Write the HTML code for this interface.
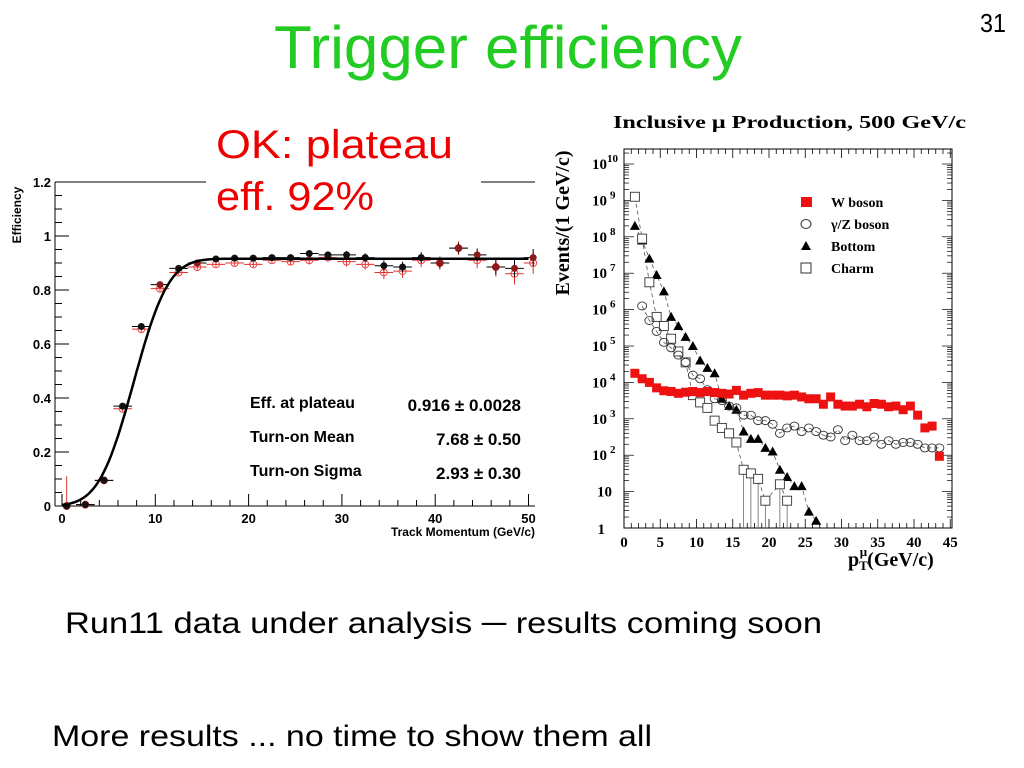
<!DOCTYPE html>
<html><head><meta charset="utf-8">
<style>
html,body{margin:0;padding:0;background:#fff;}
svg{display:block;}
text{font-family:"Liberation Sans",sans-serif;}
.serif{font-family:"Liberation Serif",serif;font-weight:bold;}
</style></head>
<body>
<svg id="slide" width="1024" height="768" viewBox="0 0 1024 768" xmlns="http://www.w3.org/2000/svg">
<rect width="1024" height="768" fill="#fff"/>
<text x="274" y="68" font-size="60" fill="#22cc22" textLength="468" lengthAdjust="spacingAndGlyphs">Trigger efficiency</text>
<text x="980" y="32" font-size="26" fill="#000" textLength="26" lengthAdjust="spacingAndGlyphs">31</text>
<g id="left"></g>
<rect x="206" y="110" width="275" height="115" fill="#fff"/>
<text x="216" y="158" font-size="40" fill="#ee0000" textLength="237" lengthAdjust="spacingAndGlyphs">OK: plateau</text>
<text x="216" y="210" font-size="40" fill="#ee0000" textLength="158" lengthAdjust="spacingAndGlyphs">eff. 92%</text>
<g id="right"></g>
<text x="65" y="633" font-size="30" fill="#000" textLength="757" lengthAdjust="spacingAndGlyphs">Run11 data under analysis ─ results coming soon</text>
<text x="52" y="746" font-size="30" fill="#000" textLength="600" lengthAdjust="spacingAndGlyphs">More results ... no time to show them all</text>
</svg>
<script>
const NS="http://www.w3.org/2000/svg";
// ---------- Left chart data ----------
const effX=[0.5,2.5,4.5,6.5,8.5,10.5,12.5,14.5,16.5,18.5,20.5,22.5,24.5,26.5,28.5,30.5,32.5,34.5,36.5,38.5,40.5,42.5,44.5,46.5,48.5,50.5];
const effBlack=[0,0.005,0.095,0.37,0.665,0.82,0.88,0.9,0.915,0.918,0.918,0.92,0.92,0.935,0.93,0.93,0.92,0.89,0.885,0.92,0.9,0.955,0.93,0.885,0.88,0.92];
const effRed=[0,0.005,0.095,0.36,0.655,0.805,0.865,0.885,0.895,0.9,0.895,0.91,0.905,0.91,0.92,0.905,0.895,0.865,0.87,0.91,0.9,0.955,0.91,0.885,0.86,0.9];
const effErr=[0.11,0.01,0.01,0.01,0.01,0.01,0.01,0.01,0.01,0.01,0.01,0.01,0.012,0.015,0.015,0.018,0.02,0.025,0.025,0.025,0.025,0.025,0.03,0.035,0.04,0.04];
const fitParams=[0.916,7.68,2.93];
const effXTicks=[0,10,20,30,40,50];
const effYTicks=[0,0.2,0.4,0.6,0.8,1,1.2];
const effYLabels=["0","0.2","0.4","0.6","0.8","1","1.2"];
const statNames=["Eff. at plateau","Turn-on Mean","Turn-on Sigma"];
const statVals=["0.916 ± 0.0028","7.68 ± 0.50","2.93 ± 0.30"];

// ---------- Right chart data ----------
const wX=[1.5,2.5,3.5,4.5,5.5,6.5,7.5,8.5,9.5,10.5,11.5,12.5,13.5,14.5,15.5,16.5,17.5,18.5,19.5,20.5,21.5,22.5,23.5,24.5,25.5,26.5,27.5,28.5,29.5,30.5,31.5,32.5,33.5,34.5,35.5,36.5,37.5,38.5,39.5,40.5,41.5,42.5,43.5];
const wLog=[4.25,4.1,4.0,3.85,3.77,3.75,3.7,3.73,3.75,3.72,3.75,3.72,3.7,3.68,3.78,3.65,3.7,3.72,3.65,3.65,3.65,3.63,3.65,3.6,3.55,3.55,3.4,3.6,3.4,3.35,3.35,3.4,3.33,3.42,3.4,3.33,3.35,3.25,3.35,3.1,2.75,2.8,1.97];
const zX=[2.5,3.5,4.5,5.5,6.5,7.5,8.5,9.5,10.5,11.5,12.5,13.5,14.5,15.5,16.5,17.5,18.5,19.5,20.5,21.5,22.5,23.5,24.5,25.5,26.5,27.5,28.5,29.5,30.5,31.5,32.5,33.5,34.5,35.5,36.5,37.5,38.5,39.5,40.5,41.5,42.5,43.5];
const zLog=[6.1,5.7,5.4,5.1,4.95,4.75,4.55,4.2,4.1,3.8,3.55,3.5,3.35,3.3,3.1,3.1,2.95,2.95,2.85,2.6,2.75,2.8,2.65,2.75,2.65,2.55,2.5,2.7,2.4,2.55,2.4,2.4,2.5,2.3,2.4,2.3,2.35,2.35,2.3,2.2,2.2,2.2];
const bX=[1.5,2.5,3.5,4.5,5.5,6.5,7.5,8.5,9.5,10.5,11.5,12.5,13.5,14.5,15.5,16.5,17.5,18.5,19.5,20.5,21.5,22.5,23.5,24.5,25.5,26.5];
const bLog=[8.3,7.9,7.4,6.95,6.5,5.8,5.55,5.25,5.0,4.6,4.4,4.25,3.55,3.35,3.25,2.65,2.45,2.45,2.2,2.1,1.6,1.4,1.15,1.15,0.45,0.2];
const cX=[1.5,2.5,3.5,4.5,5.5,6.5,7.5,8.5,9.5,10.5,11.5,12.5,13.5,14.5,15.5,16.5,17.5,18.5,19.5,21.5,22.5];
const cLog=[9.1,7.95,6.75,5.8,5.55,5.2,4.85,4.55,3.65,3.45,3.3,2.95,2.75,2.6,2.35,1.6,1.5,1.35,0.75,1.2,0.75];
const ptTicks=[0,5,10,15,20,25,30,35,40,45];
const decTicks=[0,1,2,3,4,5,6,7,8,9,10];
const legendLabels=["W boson","γ/Z boson","Bottom","Charm"];

function el(tag,attrs,parent){const e=document.createElementNS(NS,tag);for(const k in attrs)e.setAttribute(k,attrs[k]);parent.appendChild(e);return e;}

// ===== Left chart =====
(function(){
const g=document.getElementById('left');
const X0=62,XS=9.33,Y0=506,YS=270,L=55,R=535;
const sx=v=>X0+v*XS, sy=v=>Y0-v*YS;
el('line',{x1:L,y1:182,x2:L,y2:Y0,stroke:'#000','stroke-width':1},g);
el('line',{x1:L,y1:Y0,x2:R,y2:Y0,stroke:'#000','stroke-width':1},g);
el('line',{x1:L,y1:182,x2:R,y2:182,stroke:'#000','stroke-width':1},g);
for(let v=0;v<=1.2001;v+=0.05){const maj=Math.abs(v*5-Math.round(v*5))<1e-6;el('line',{x1:L,y1:sy(v),x2:L+(maj?14:7),y2:sy(v),stroke:'#000','stroke-width':1},g);}
for(let v=0;v<=50;v+=2){const maj=v%10===0;el('line',{x1:sx(v),y1:Y0,x2:sx(v),y2:Y0-(maj?12:6),stroke:'#000','stroke-width':1},g);}
effYTicks.forEach((v,i)=>{const t=el('text',{x:L-4,y:sy(v)+5,'font-size':13,'font-weight':'bold','text-anchor':'end'},g);t.textContent=effYLabels[i];

});
effXTicks.forEach(v=>{const t=el('text',{x:sx(v),y:Y0+17,'font-size':13,'font-weight':'bold','text-anchor':'middle'},g);t.textContent=v;

});
const yt=el('text',{x:0,y:0,'font-size':12,'font-weight':'bold','text-anchor':'middle',transform:'translate(21,215) rotate(-90)'},g);yt.textContent='Efficiency';


const xt=el('text',{x:535,y:536,'font-size':12,'font-weight':'bold','text-anchor':'end'},g);xt.textContent='Track Momentum (GeV/c)';


// red points
effX.forEach((x,i)=>{const px=sx(x);if(px>R+2)return;const py=sy(effRed[i]);const e=effErr[i]*YS;
el('line',{x1:Math.max(L,sx(x-1)),y1:py,x2:Math.min(R,sx(x+1)),y2:py,stroke:'#d33','stroke-width':1},g);
el('line',{x1:px,y1:py-e,x2:px,y2:Math.min(Y0,py+e),stroke:'#d33','stroke-width':1},g);
const c=el('circle',{cx:px,cy:py,r:3.5,fill:'none',stroke:'#e44','stroke-width':1},g);

});
effX.forEach((x,i)=>{const px=sx(x);if(px>R+2)return;const py=sy(effBlack[i]);const e=effErr[i]*YS*0.8;
el('line',{x1:Math.max(L,sx(x-1)),y1:py,x2:Math.min(R,sx(x+1)),y2:py,stroke:'#000','stroke-width':1},g);
if(i>0)el('line',{x1:px,y1:py-e,x2:px,y2:Math.min(Y0,py+e),stroke:'#000','stroke-width':1},g);
const c=el('circle',{cx:px,cy:py,r:3.5,fill:(i===5||i===7||i>=20)?'#8b1a1a':'#111'},g);

});
// fit curve from params
function erf(x){const t=1/(1+0.3275911*Math.abs(x));const y=1-(((((1.061405429*t-1.453152027)*t)+1.421413741)*t-0.284496736)*t+0.254829592)*t*Math.exp(-x*x);return x>=0?y:-y;}
let d='';for(let i=0;i<=200;i++){const x=i*0.25;const v=fitParams[0]*0.5*(1+erf((x-fitParams[1])/(fitParams[2]*Math.SQRT2)));d+=(i?'L':'M')+sx(x).toFixed(1)+','+sy(v).toFixed(1);}
const fp=el('path',{d:d,fill:'none',stroke:'#000','stroke-width':2.5},g);


statNames.forEach((n,i)=>{const y=408+i*34;
const a=el('text',{x:250,y:y,'font-size':16,'font-weight':'bold'},g);a.textContent=n;


const b=el('text',{x:521,y:y+3,'font-size':17,'font-weight':'bold','text-anchor':'end'},g);b.textContent=statVals[i];

});
})();

// ===== Right chart =====
(function(){
const g=document.getElementById('right');
const L=624,R=952,T=149,B=528,XS=7.25,DS=36.4;
const sx=v=>L+v*XS, sy=v=>B-v*DS;
const tt=el('text',{x:613,y:128,'font-size':18,class:'serif',textLength:353,lengthAdjust:'spacingAndGlyphs'},g);tt.textContent='Inclusive μ Production, 500 GeV/c';


el('rect',{x:L,y:T,width:R-L,height:B-T,fill:'none',stroke:'#000','stroke-width':1},g);
for(let v=0;v<=45;v++){const maj=v%5===0;const h=maj?9:5;
el('line',{x1:sx(v),y1:B,x2:sx(v),y2:B-h,stroke:'#000','stroke-width':0.8},g);
el('line',{x1:sx(v),y1:T,x2:sx(v),y2:T+h,stroke:'#000','stroke-width':0.8},g);}
for(let d=0;d<=10;d++){for(let m=1;m<10;m++){const v=d+Math.log10(m);const y=sy(v);if(y<T)continue;const h=m===1?10:5;
el('line',{x1:L,y1:y,x2:L+h,y2:y,stroke:'#000','stroke-width':0.7},g);
el('line',{x1:R,y1:y,x2:R-h,y2:y,stroke:'#000','stroke-width':0.7},g);}}
ptTicks.forEach(v=>{const t=el('text',{x:sx(v),y:B+19,'font-size':15,class:'serif','text-anchor':'middle'},g);t.textContent=v;

});
decTicks.forEach(d=>{const y=sy(d)+5;let t;
if(d===0){t=el('text',{x:605,y:y+1,'font-size':15,class:'serif','text-anchor':'end'},g);t.textContent='1';}
else if(d===1){t=el('text',{x:612,y:y,'font-size':15,class:'serif','text-anchor':'end'},g);t.textContent='10';}
else{t=el('text',{x:592,y:y,'font-size':15,class:'serif'},g);t.textContent='10';
const s=el('tspan',{dx:(d===10?0:3),dy:-7,'font-size':11},t);s.textContent=d;}

});
const yl=el('text',{x:0,y:0,'font-size':20,class:'serif','text-anchor':'middle',transform:'translate(569,223) rotate(-90)'},g);yl.textContent='Events/(1 GeV/c)';


const xl=el('text',{x:848,y:566,'font-size':20,class:'serif'},g);xl.textContent='p';
const s1=el('tspan',{dy:4,'font-size':13},xl);s1.textContent='T';
const s2=el('tspan',{dx:-8,dy:-14,'font-size':13},xl);s2.textContent='μ';
const s3=el('tspan',{dy:10},xl);s3.textContent='(GeV/c)';


function dash(xs,ls,name){let d='';xs.forEach((x,i)=>{d+=(i?'L':'M')+sx(x).toFixed(1)+','+Math.min(B,sy(ls[i])).toFixed(1);});
const p=el('path',{d:d,fill:'none',stroke:'#555','stroke-width':0.8,'stroke-dasharray':'4,3'},g);

}
dash(bX,bLog,'bottom-fit-line');dash(cX,cLog,'charm-fit-line');dash(zX,zLog,'z-fit-line');
bX.forEach((x,i)=>{const px=sx(x),py=sy(bLog[i]);
const p=el('polygon',{points:`${px-5},${py+4} ${px+5},${py+4} ${px},${py-5}`,fill:'#000'},g);

});
cX.forEach((x,i)=>{const px=sx(x),py=sy(cLog[i]);
if(cLog[i]<2)el('line',{x1:px,y1:py,x2:px,y2:B,stroke:'#666','stroke-width':0.8},g);
const r=el('rect',{x:px-4.5,y:py-4.5,width:9,height:9,fill:'#fff',stroke:'#333','stroke-width':0.9},g);

});
zX.forEach((x,i)=>{const c=el('ellipse',{cx:sx(x),cy:sy(zLog[i]),rx:4.5,ry:4,fill:'none',stroke:'#333','stroke-width':0.9},g);

});
wX.forEach((x,i)=>{const r=el('rect',{x:sx(x)-4.5,y:sy(wLog[i])-4.5,width:9,height:9,fill:'#ee1111'},g);

});
// legend
const ly=[202,224,246,268];
const m0=el('rect',{x:801,y:ly[0]-5,width:11,height:10,fill:'#ee1111'},g);


const m1=el('ellipse',{cx:806,cy:ly[1],rx:5,ry:4.5,fill:'none',stroke:'#333'},g);


const m2=el('polygon',{points:`801,${ly[2]+4} 811,${ly[2]+4} 806,${ly[2]-5}`,fill:'#000'},g);


const m3=el('rect',{x:801,y:ly[3]-5,width:10,height:10,fill:'#fff',stroke:'#333'},g);


legendLabels.forEach((n,i)=>{const t=el('text',{x:831,y:ly[i]+5,'font-size':14,class:'serif'},g);t.textContent=n;

});
})();
</script>
</body></html>
